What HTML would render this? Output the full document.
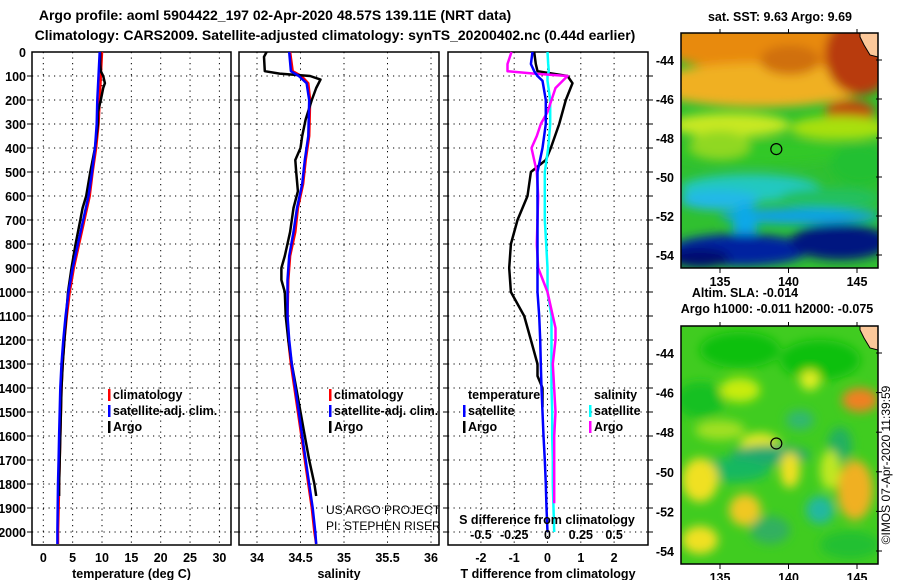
<!DOCTYPE html>
<html><head><meta charset="utf-8"><style>
html,body{margin:0;padding:0;background:#fff;}
svg{display:block;font-family:"Liberation Sans",Arial,sans-serif;}
.t{font-weight:bold;font-size:13px;fill:#000;}
.tk{font-weight:bold;font-size:12.5px;fill:#000;}
.lg{font-weight:bold;font-size:12.5px;fill:#000;}
</style></head><body>
<svg id="chart" width="900" height="580" viewBox="0 0 900 580">
<text class="t" x="275" y="20" text-anchor="middle" style="font-size:14px">Argo profile: aoml 5904422_197 02-Apr-2020 48.57S 139.11E (NRT data)</text>
<text class="t" x="335" y="40" text-anchor="middle" style="font-size:14px">Climatology: CARS2009. Satellite-adjusted climatology: synTS_20200402.nc (0.44d earlier)</text>
<g id="plots"></g>
<g id="maps"></g>
<text x="890" y="465" transform="rotate(-90 890 465)" text-anchor="middle" style="font-size:12px">©IMOS 07-Apr-2020 11:39:59</text>
</svg>
<script>
// ---------- data ----------
const tDepth   = [0,50,100,150,200,300,400,500,600,700,800,900,1000,1100,1200,1300,1400,1500,1600,1700,1800,1900,2000,2050];
const tClim    = [10,9.9,9.8,9.7,9.6,9.4,9.0,8.4,7.9,7.0,6.1,5.2,4.5,4.0,3.6,3.3,3.1,3.0,2.9,2.8,2.7,2.6,2.5,2.5];
const tSat     = [9.6,9.5,9.4,9.3,9.2,9.1,8.8,8.3,7.7,6.8,5.9,5.0,4.3,3.8,3.4,3.1,2.9,2.8,2.7,2.6,2.5,2.45,2.4,2.4];
const argoDepth= [0,50,80,100,130,150,200,250,300,400,500,600,650,700,800,900,1000,1100,1200,1300,1400,1500,1600,1700,1800,1850];
const tArgo    = [9.7,9.7,9.8,10.2,10.5,10.2,9.8,9.3,9.3,8.8,8.0,7.3,6.7,6.3,5.5,4.8,4.2,3.9,3.6,3.3,3.1,3.0,2.9,2.8,2.7,2.7];
const sDepth   = [0,80,100,130,200,350,450,550,650,750,850,950,1100,1200,1300,1400,1500,1600,1700,1800,1900,2000,2050];
const sClim    = [34.38,34.41,34.51,34.59,34.61,34.6,34.56,34.53,34.47,34.44,34.38,34.36,34.35,34.36,34.39,34.43,34.47,34.51,34.55,34.59,34.63,34.66,34.68];
const sSat     = [34.37,34.39,34.48,34.57,34.6,34.59,34.55,34.52,34.46,34.42,34.37,34.35,34.35,34.37,34.4,34.44,34.48,34.52,34.56,34.6,34.64,34.67,34.68];
const sArgoDepth=[0,20,80,90,100,115,150,200,280,350,400,450,500,580,650,750,850,900,950,1000,1100,1200,1300,1400,1500,1600,1700,1800,1850];
const sArgo    = [34.11,34.08,34.09,34.26,34.61,34.73,34.68,34.63,34.56,34.52,34.5,34.44,34.45,34.47,34.42,34.38,34.32,34.28,34.28,34.32,34.33,34.36,34.4,34.45,34.5,34.55,34.6,34.66,34.68];
const dDepth   = [0,50,80,100,120,200,300,400,500,600,700,800,900,1000,1100,1200,1300,1400,1500,1600,1700,1800,1900,2000];
const dTSat    = [-0.45,-0.5,-0.4,-0.3,-0.15,-0.05,-0.05,-0.15,-0.3,-0.3,-0.3,-0.3,-0.3,-0.3,-0.25,-0.22,-0.2,-0.18,-0.15,-0.12,-0.08,-0.05,-0.03,0];
const dSSat    = [0,0.005,0.01,0,0,0.02,0.02,0.005,-0.02,-0.02,-0.02,-0.01,0,0.0,0.03,0.03,0.03,0.03,0.035,0.035,0.04,0.04,0.045,0.05];
const dTArgoDepth=[0,50,80,100,130,200,300,400,450,500,600,700,800,900,1000,1100,1200,1300,1350,1400,1480];
const dTArgo   = [-0.4,-0.35,-0.3,0.6,0.75,0.55,0.35,0.1,-0.05,-0.5,-0.6,-0.9,-1.1,-1.15,-1.1,-0.7,-0.5,-0.3,-0.3,-0.15,-0.15];
const dSArgoDepth=[0,50,80,90,100,150,250,300,350,400,500,600,800,900,1000,1150,1200,1300,1500,1600,1800,1880];
const dSArgo   = [-0.27,-0.3,-0.3,-0.1,0.15,0.06,0.0,-0.05,-0.08,-0.12,-0.08,-0.07,-0.08,-0.07,0,0.06,0.06,0.04,0.06,0.05,0.05,0.05];
const depthTicks = [0,100,200,300,400,500,600,700,800,900,1000,1100,1200,1300,1400,1500,1600,1700,1800,1900,2000];
const tTicks = [0,5,10,15,20,25,30];
const sTicks = [34,34.5,35,35.5,36];
const dTTicks = [-2,-1,0,1,2];
const dSTickVals = [-0.5,-0.25,0,0.25,0.5];
const dSTickLabels = ["-0.5","-0.25","0","0.25","0.5"];
const mapLonTicks = [135,140,145];
const mapLatTicks = [-44,-46,-48,-50,-52,-54];
const floatLon = 139.11, floatLat = -48.57;

// ---------- helpers ----------
const NS="http://www.w3.org/2000/svg";
const plots=document.getElementById('plots');
function mk(tag,attrs,parent){const e=document.createElementNS(NS,tag);for(const k in attrs)e.setAttribute(k,attrs[k]);(parent||plots).appendChild(e);return e;}
const yTop=52, yBot=545;
const yD = d => yTop + d*0.24;
function axisX(x0,v0,px){return v=>x0+(v-v0)*px;}
const panels=[
 {x0:32,x1:231,name:'temperature-panel',fx:axisX(43.3,0,5.87),ticks:tTicks,title:'temperature (deg C)'},
 {x0:239,x1:439,name:'salinity-panel',fx:axisX(257,34,87),ticks:sTicks,title:'salinity'},
 {x0:448,x1:648,name:'difference-panel',fx:axisX(547.5,0,33.3),ticks:dTTicks,title:'T difference from climatology'}
];
panels.forEach((p,pi)=>{
  const g=mk('g',{});
  
  
  depthTicks.forEach(d=>{
    if(d===0)return;
    const l=mk('line',{x1:p.x0,x2:p.x1,y1:yD(d),y2:yD(d),stroke:'#000','stroke-width':1,'stroke-dasharray':'1.2 4.3'},g);
    
    
    const tk=mk('line',{x1:p.x0-5,x2:p.x0,y1:yD(d),y2:yD(d),stroke:'#000'},g);
    
    
    if(pi===2){const tr=mk('line',{x1:p.x1,x2:p.x1+5,y1:yD(d),y2:yD(d),stroke:'#000'},g);
      
      }
  });
  p.ticks.forEach((v,i)=>{
    const x=p.fx(v);
    const l=mk('line',{x1:x,x2:x,y1:yTop,y2:yBot,stroke:'#000','stroke-width':1,'stroke-dasharray':'1.2 4.3'},g);
    
    
    const t=mk('text',{x:x,y:562,'text-anchor':'middle',class:'tk'},g);
    t.textContent=String(v);
    
    
  });
  const r=mk('rect',{x:p.x0,y:yTop,width:p.x1-p.x0,height:yBot-yTop,fill:'none',stroke:'#000','stroke-width':1.5},g);
  
  
  const tt=mk('text',{x:(p.x0+p.x1)/2,y:578,'text-anchor':'middle',class:'tk'},g);
  tt.textContent=p.title;
  
  
});
depthTicks.forEach(d=>{
  const t=mk('text',{x:26,y:yD(d)+5,'text-anchor':'end',class:'tk'});
  t.textContent=String(d);
  
  
});
function line(depths,vals,fx,color,name,w){
  const pts=vals.map((v,i)=>fx(v).toFixed(1)+','+yD(depths[i]).toFixed(1)).join(' ');
  const pl=mk('polyline',{points:pts,fill:'none',stroke:color,'stroke-width':w||2.5,'stroke-linejoin':'round'});
  
  
}
const fT=panels[0].fx, fS=panels[1].fx, fDT=panels[2].fx, fDS=axisX(547.5,0,133.2);
line(tDepth,tClim,fT,'#f00','temperature-climatology-line');
line(argoDepth,tArgo,fT,'#000','temperature-argo-line');
line(tDepth,tSat,fT,'#00f','temperature-satellite-line');
line(sDepth,sClim,fS,'#f00','salinity-climatology-line');
line(sArgoDepth,sArgo,fS,'#000','salinity-argo-line');
line(sDepth,sSat,fS,'#00f','salinity-satellite-line');
line(dTArgoDepth,dTArgo,fDT,'#000','t-diff-argo-line');
line(dDepth,dSSat,fDS,'#0ff','s-diff-satellite-line');
line(dSArgoDepth,dSArgo,fDS,'#f0f','s-diff-argo-line');
line(dDepth,dTSat,fDT,'#00f','t-diff-satellite-line');
dSTickVals.forEach((v,i)=>{
  const t=mk('text',{x:fDS(v),y:539,'text-anchor':'middle',class:'tk'});
  t.textContent=dSTickLabels[i];
  
  
});
{const t=mk('text',{x:547,y:524,'text-anchor':'middle',class:'tk'});t.textContent='S difference from climatology';

}
function legend(x,y,color,label,name){
  if(color){const r=mk('rect',{x:x-5,y:y-10,width:2.5,height:12,fill:color});
    
    }
  const t=mk('text',{x:x,y:y,class:'lg'});t.textContent=label;
  
  
}
legend(113,399,'#f00','climatology','legend-climatology');
legend(113,415,'#00f','satellite-adj. clim.','legend-satellite');
legend(113,431,'#000','Argo','legend-argo');
legend(334,399,'#f00','climatology','legend-climatology-s');
legend(334,415,'#00f','satellite-adj. clim.','legend-satellite-s');
legend(334,431,'#000','Argo','legend-argo-s');
legend(468,399,null,'temperature','legend-temperature-heading');
legend(468,415,'#00f','satellite','legend-t-satellite');
legend(468,431,'#000','Argo','legend-t-argo');
legend(594,399,null,'salinity','legend-salinity-heading');
legend(594,415,'#0ff','satellite','legend-s-satellite');
legend(594,431,'#f0f','Argo','legend-s-argo');
{const t=mk('text',{x:326,y:514,style:'font-size:12px'});t.textContent='US ARGO PROJECT';


const t2=mk('text',{x:326,y:530,style:'font-size:12px'});t2.textContent='PI: STEPHEN RISER';

}

// ---------- maps ----------
const maps=document.getElementById('maps');
const defs=mk('defs',{},maps);
const f=mk('filter',{id:'bl',x:'-50%',y:'-50%',width:'200%',height:'200%'},defs);
mk('feGaussianBlur',{stdDeviation:5},f);
const cp1=mk('clipPath',{id:'c1'},defs);mk('rect',{x:681,y:33,width:197,height:235},cp1);
const cp2=mk('clipPath',{id:'c2'},defs);mk('rect',{x:681,y:326,width:197,height:238},cp2);
function mapFrame(y0,y1,title1,clip,blobs,base,name){
  const g=mk('g',{},maps);
  
  
  const inner=mk('g',{'clip-path':'url(#'+clip+')'},g);
  mk('rect',{x:681,y:y0,width:197,height:y1-y0,fill:base},inner);
  const bg=mk('g',{filter:'url(#bl)'},inner);
  blobs.forEach(b=>mk('ellipse',{cx:b[0],cy:b[1],rx:b[2],ry:b[3],fill:b[4]},bg));
  mk('path',{d:`M860 ${y0} L878 ${y0} L878 ${y0+24} L870 ${y0+22} L864 ${y0+12} L860 ${y0+4} Z`,fill:'#fbc89a',stroke:'#000','stroke-width':1},inner);
  mk('rect',{x:681,y:y0,width:197,height:y1-y0,fill:'none',stroke:'#000','stroke-width':1.5},g);
  const lonX=lon=>720+(lon-135)*13.7;
  const latY=lat=>y0+27+(-44-lat)*((y1-y0-40)/10);
  mapLonTicks.forEach(lon=>{
    mk('line',{x1:lonX(lon),x2:lonX(lon),y1:y1,y2:y1+5,stroke:'#000'},g);
    mk('line',{x1:lonX(lon),x2:lonX(lon),y1:y0,y2:y0-4,stroke:'#000'},g);
    const t=mk('text',{x:lonX(lon),y:y1+18,'text-anchor':'middle',class:'tk'},g);t.textContent=String(lon);
    
    
  });
  mapLatTicks.forEach(lat=>{
    mk('line',{x1:876,x2:882,y1:latY(lat),y2:latY(lat),stroke:'#000'},g);
    const t=mk('text',{x:674,y:latY(lat)+5,'text-anchor':'end',class:'tk'},g);t.textContent=String(lat);
    
    
  });
  const c=mk('circle',{cx:lonX(floatLon),cy:latY(floatLat),r:5.5,fill:'none',stroke:'#000','stroke-width':1.2},g);
  
  
  title1.forEach(tt=>{const t=mk('text',{x:tt[1],y:tt[2],'text-anchor':'middle',class:'tk'},g);t.textContent=tt[0];
    
    });
}
const sstBlobs=[
 [780,45,120,28,'#e88a10'],[760,85,110,22,'#f0b020'],[860,55,35,40,'#b83a08'],[850,112,25,12,'#c04a10'],
 [790,60,30,15,'#d07010'],[730,125,60,12,'#c8e820'],[840,128,50,12,'#a8e010'],
 [760,152,90,12,'#30c828'],[720,145,30,14,'#90d820'],[860,165,30,20,'#20c030'],
 [750,188,70,14,'#20c8c0'],[720,200,40,10,'#20b8e8'],[830,198,50,10,'#20c060'],
 [800,216,80,8,'#10a0e8'],[745,225,12,22,'#10a8e8'],[740,250,70,16,'#0020a0'],[840,242,50,18,'#001880'],[700,258,30,10,'#001070']];
mapFrame(33,268,[['sat. SST: 9.63 Argo: 9.69',780,21]],'c1',sstBlobs,'#30c030','sst-map');
const slaBlobs=[
 [740,350,40,18,'#10c010'],[820,360,40,20,'#10c010'],[700,400,25,18,'#18c020'],[860,400,18,12,'#f08020'],
 [740,390,20,12,'#c8ec10'],[810,380,10,10,'#e0ee20'],[760,445,20,12,'#e8e820'],[800,420,14,10,'#30b870'],
 [770,455,40,10,'#20a870'],[730,470,40,12,'#18b860'],[700,480,18,22,'#f0e020'],[790,470,10,18,'#f0e020'],
 [855,490,18,30,'#f0b020'],[820,510,14,14,'#20b8a0'],[745,510,16,16,'#f0c820'],[770,530,20,14,'#30b060'],
 [700,540,18,14,'#f0e020'],[850,545,30,14,'#20c030'],[840,445,12,18,'#20b060'],[720,430,25,10,'#a0e020'],[830,470,10,20,'#c0e820']];
mapFrame(326,564,[['Altim. SLA: -0.014',745,297],['Argo h1000: -0.011 h2000: -0.075',777,313]],'c2',slaBlobs,'#40cc20','sla-map');
</script>
</body></html>
